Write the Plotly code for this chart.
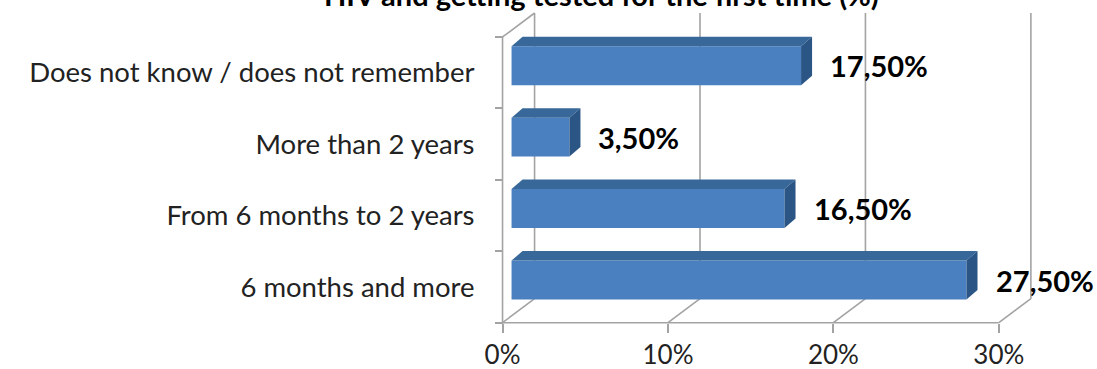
import plotly.graph_objects as go

# ---- data -------------------------------------------------------------
categories = [
    "6 months and more",
    "From 6 months to 2 years",
    "More than 2 years",
    "Does not know / does not remember",
]
shares = [27.5, 16.5, 3.5, 17.5]          # percent of respondents
x_ticks = [0, 10, 20, 30]
x_tick_labels = ["0%", "10%", "20%", "30%"]
title_text = "HIV and getting tested for the first time (%)"

# ---- geometry of the pseudo-3D box -----------------------------------
W, H = 1097, 369
SX = 16.53            # px per percentage point
SY = 71.5             # px per category band
X0_PX, Y0_PX = 503, 323   # where 0 % meets the front floor edge
XL, YB = -1.0, -0.2       # small padding so edge lines are not clipped
M_R, M_T = 40, 1
M_L = X0_PX + XL * SX
M_B = H - (Y0_PX - YB * SY)
XR = (W - M_R - X0_PX) / SX
YT = (Y0_PX - M_T) / SY
N = len(categories)

WALL_DX, WALL_DY = 32 / SX, 24 / SY      # front -> back wall offset
BAR_OFF_X, BAR_OFF_Y = 9 / SX, 7 / SY    # bars sit a little into the box
BAR_DX, BAR_DY = 11 / SX, 9.5 / SY       # bar thickness in depth
BAR_W = 39 / SY

FRONT = "#4a7fc0"
TOP = "#386899"
SIDE = "#2a5584"
GRID = "#a3a3a3"
FONT = "Lato"

fig = go.Figure()

centers = [i + 0.5 + BAR_OFF_Y for i in range(N)]

# front faces
fig.add_trace(go.Bar(
    orientation="h",
    y=centers,
    x=shares,
    base=[BAR_OFF_X] * N,
    width=BAR_W,
    marker=dict(color=FRONT, line=dict(width=0)),
    hoverinfo="skip",
    showlegend=False,
))

# top and side faces
for yc, v in zip(centers, shares):
    x1 = BAR_OFF_X
    x2 = BAR_OFF_X + v
    yt = yc + BAR_W / 2
    yb = yc - BAR_W / 2
    fig.add_trace(go.Scatter(
        x=[x1, x2, x2 + BAR_DX, x1 + BAR_DX, x1],
        y=[yt, yt, yt + BAR_DY, yt + BAR_DY, yt],
        fill="toself", fillcolor=TOP, mode="lines",
        line=dict(width=0, color=TOP), hoverinfo="skip", showlegend=False,
    ))
    fig.add_trace(go.Scatter(
        x=[x2, x2 + BAR_DX, x2 + BAR_DX, x2, x2],
        y=[yb, yb + BAR_DY, yt + BAR_DY, yt, yb],
        fill="toself", fillcolor=SIDE, mode="lines",
        line=dict(width=0, color=SIDE), hoverinfo="skip", showlegend=False,
    ))

# walls and gridlines
shapes = []
line = dict(color=GRID, width=1.6)
for t in x_ticks:
    shapes.append(dict(type="line", xref="x", yref="y", layer="below",
                       x0=t + WALL_DX, x1=t + WALL_DX, y0=WALL_DY, y1=N + WALL_DY, line=line))
    shapes.append(dict(type="line", xref="x", yref="y", layer="below",
                       x0=t, x1=t + WALL_DX, y0=0, y1=WALL_DY, line=line))
shapes.append(dict(type="line", xref="x", yref="y", layer="below",
                   x0=x_ticks[0], x1=x_ticks[-1], y0=0, y1=0, line=line))
shapes.append(dict(type="line", xref="x", yref="y", layer="below",
                   x0=0, x1=0, y0=0, y1=N, line=line))
shapes.append(dict(type="line", xref="x", yref="y", layer="below",
                   x0=0, x1=WALL_DX, y0=N, y1=N + WALL_DY, line=line))

# value labels
annotations = []
for yc, v in zip(centers, shares):
    annotations.append(dict(
        x=BAR_OFF_X + v, y=yc, xref="x", yref="y",
        text="<b>" + f"{v:.2f}".replace(".", ",") + "%</b>",
        showarrow=False, xanchor="left", yanchor="middle", xshift=27,
        font=dict(family=FONT, size=29, color="#000000"),
    ))

plot_w = W - M_L - M_R
plot_h = H - M_T - M_B
annotations.append(dict(
    x=(602 - M_L) / plot_w, y=(H - M_B - 14) / plot_h,
    xref="paper", yref="paper", text="<b>" + title_text + "</b>",
    showarrow=False, xanchor="center", yanchor="bottom",
    font=dict(family=FONT, size=29, color="#000000"),
))

fig.update_layout(
    width=W, height=H,
    margin=dict(l=M_L, r=M_R, t=M_T, b=M_B, pad=0),
    paper_bgcolor="white", plot_bgcolor="white",
    shapes=shapes, annotations=annotations,
    showlegend=False,
    xaxis=dict(
        range=[XL, XR], anchor="free", position=(0 - YB) / (YT - YB),
        tickvals=x_ticks, ticktext=x_tick_labels,
        ticks="outside", ticklen=9, tickwidth=1.6, tickcolor=GRID,
        showline=False, showgrid=False, zeroline=False, automargin=False,
        tickfont=dict(family=FONT, size=26, color="#222222"),
        fixedrange=True,
    ),
    yaxis=dict(
        range=[YB, YT], anchor="free", position=(0 - XL) / (XR - XL),
        tickvals=[i + 0.5 for i in range(N)], ticktext=categories,
        ticks="", ticklabelstandoff=28,
        minor=dict(tickvals=list(range(N + 1)), ticks="outside", ticklen=8,
                   tickwidth=1.6, tickcolor=GRID),
        showline=False, showgrid=False, zeroline=False, automargin=False,
        tickfont=dict(family=FONT, size=27.5, color="#222222"),
        fixedrange=True,
    ),
)

fig.write_html("out.html")
